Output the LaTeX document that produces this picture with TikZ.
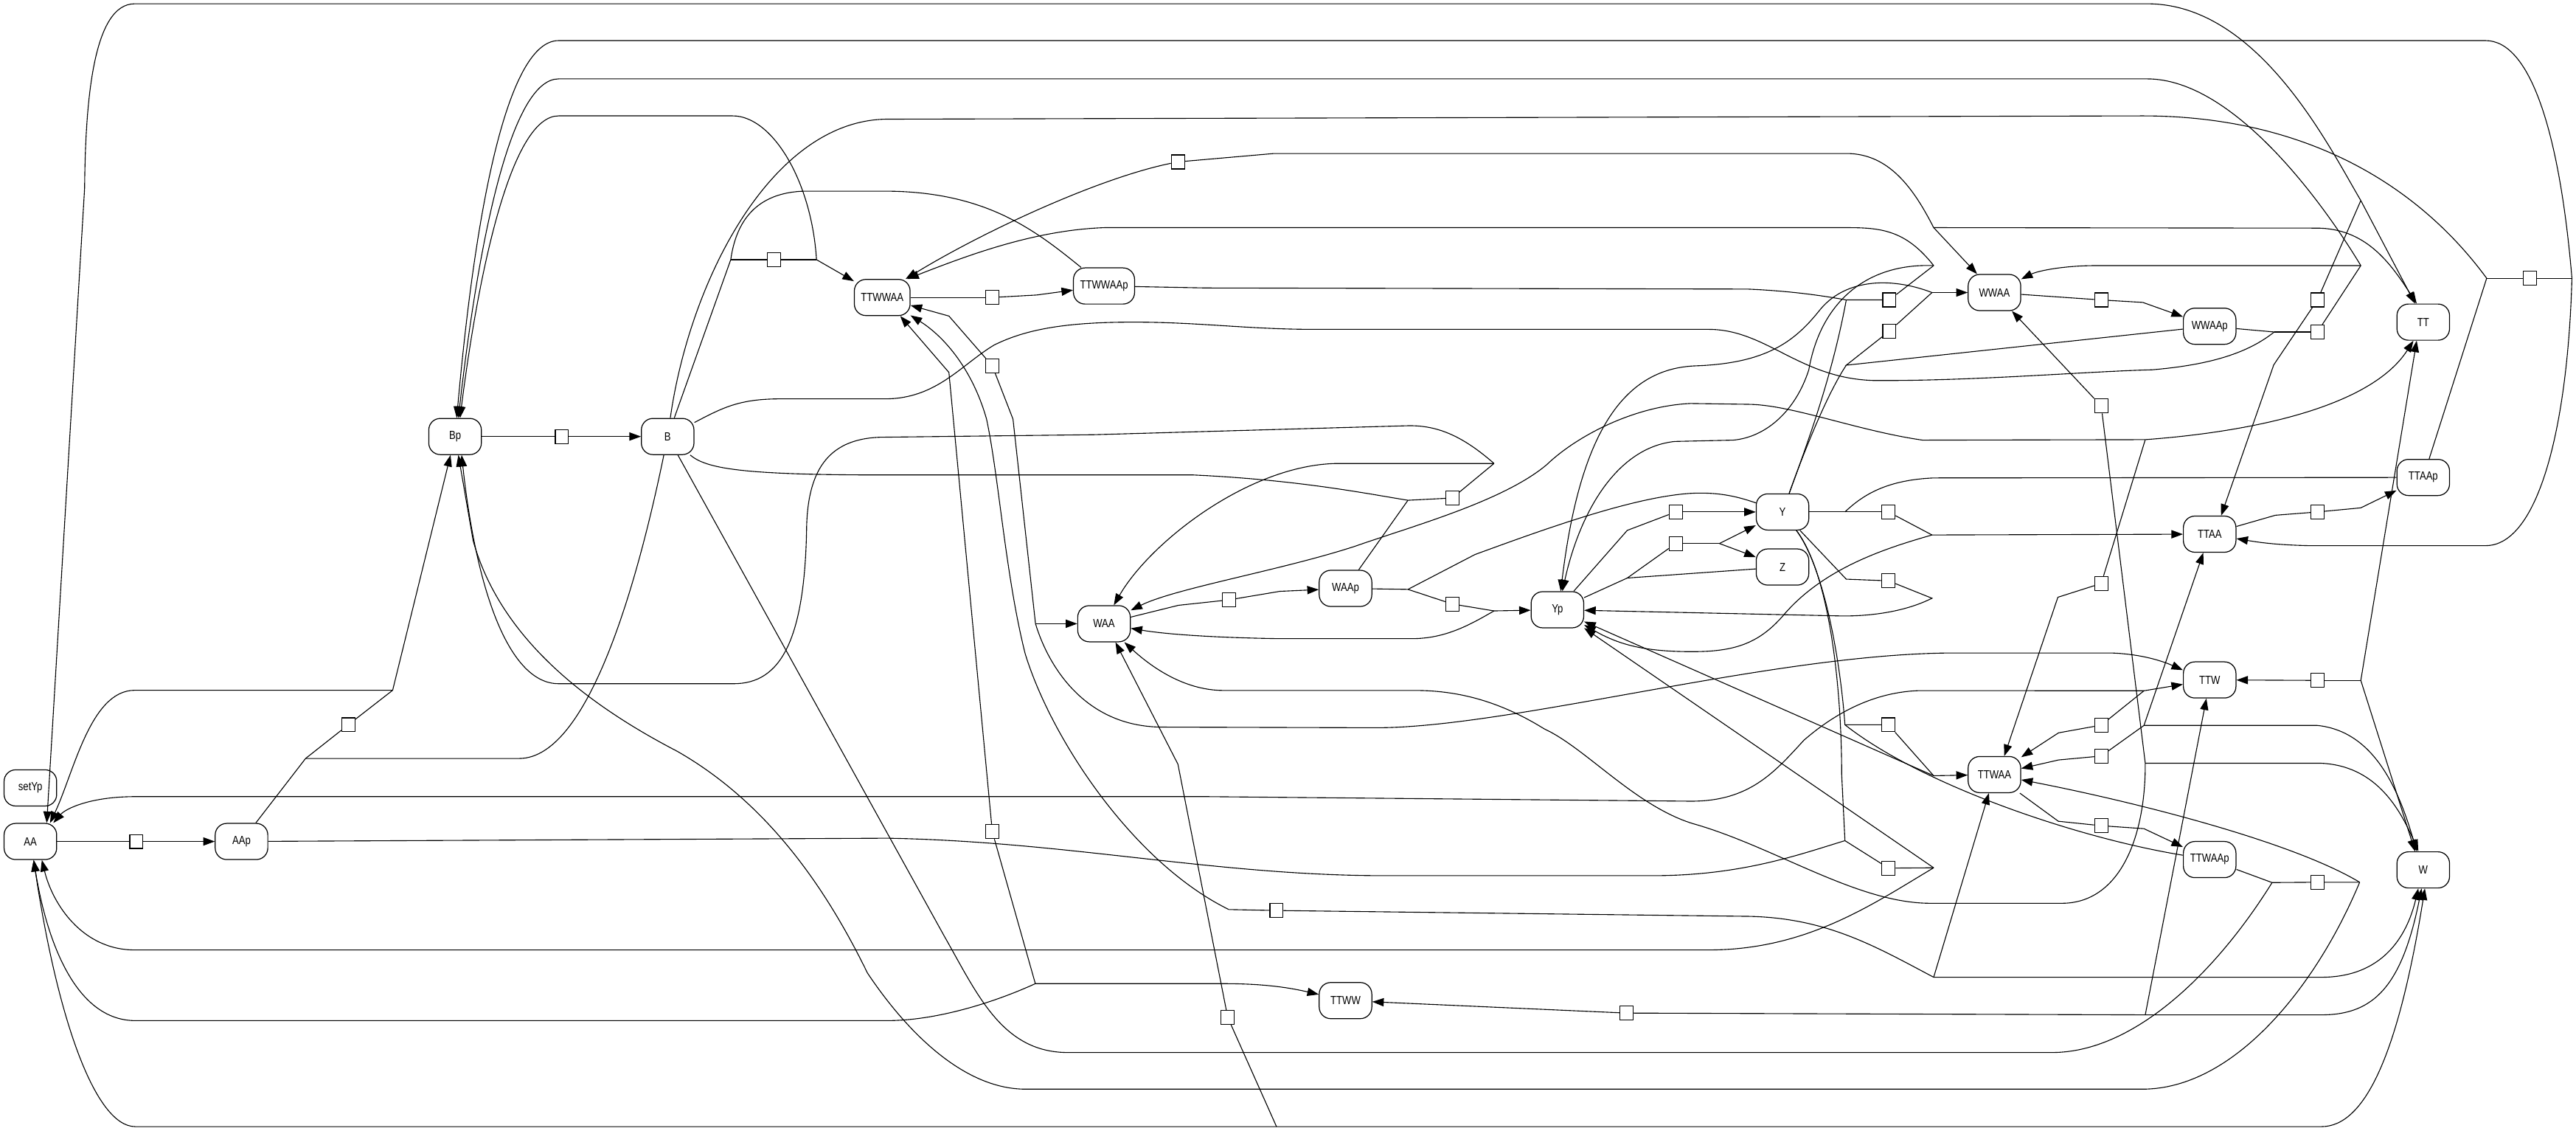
\documentclass[tikz,border=0pt]{standalone}
\usepackage{fontspec}
\newfontfamily\lbl{Liberation Sans}[FakeStretch=0.82]
\usetikzlibrary{arrows.meta}
\begin{document}
\begin{tikzpicture}[x=1bp,y=-1bp,
  place/.style={draw, line width=0.55bp, rounded corners=7bp, minimum width=32bp, minimum height=22bp, inner xsep=4bp, inner ysep=0pt, font=\lbl\fontsize{7.2}{8}\selectfont},
  trans/.style={draw, line width=0.55bp, fill=white, minimum width=8bp, minimum height=8.5bp, inner sep=0pt},
  arc/.style={line width=0.5bp},
  tip/.style={arc, -{Triangle[length=7bp,width=5bp]}},
]
\useasboundingbox (0,0) rectangle (1568,688);
% places
\node[place] (AA) at (18.5,512) {AA};
\node[place] (setYp) at (18.5,479.4) {setYp};
\node[place] (AAp) at (147,512) {AAp};
\node[place] (Bp) at (277,265.6) {Bp};
\node[place] (B) at (406.4,265.6) {B};
\node[place] (TTWWAA) at (537,181) {TTWWAA};
\node[place] (TTWWAAp) at (672,174) {TTWWAAp};
\node[place] (WAA) at (672,379.5) {WAA};
\node[place] (WAAp) at (819,358) {WAAp};
\node[place] (Yp) at (948,371) {Yp};
\node[place] (Y) at (1085,311.5) {Y};
\node[place] (Z) at (1085,345) {Z};
\node[place] (WWAA) at (1214,178) {WWAA};
\node[place] (WWAAp) at (1345,198.5) {WWAAp};
\node[place] (TT) at (1475,196) {TT};
\node[place] (TTAAp) at (1475,290.5) {TTAAp};
\node[place] (TTAA) at (1345,325) {TTAA};
\node[place] (TTW) at (1345,413.7) {TTW};
\node[place] (TTWAA) at (1214,471.3) {TTWAA};
\node[place] (TTWAAp) at (1345,523) {TTWAAp};
\node[place] (W) at (1475,529.3) {W};
\node[place] (TTWW) at (819,608.8) {TTWW};
% transitions
\node[trans] (t1) at (83,512) {};
\node[trans] (t2) at (342,265.6) {};
\node[trans] (t3) at (212,441) {};
\node[trans] (t4) at (471,158) {};
\node[trans] (t5) at (604,181) {};
\node[trans] (t6) at (717,98.5) {};
\node[trans] (t7) at (604,222.6) {};
\node[trans] (t8) at (604,506) {};
\node[trans] (t9) at (748,365) {};
\node[trans] (t10) at (884,303) {};
\node[trans] (t11) at (884,367.5) {};
\node[trans] (t12) at (1020,311.5) {};
\node[trans] (t13) at (1020,330.7) {};
\node[trans] (t14) at (1150,182.5) {};
\node[trans] (t15) at (1150,201.5) {};
\node[trans] (t16) at (1149.5,311.5) {};
\node[trans] (t17) at (1149.5,353.4) {};
\node[trans] (t18) at (1149.5,441) {};
\node[trans] (t19) at (1149.5,528.2) {};
\node[trans] (t20) at (1279,182.5) {};
\node[trans] (t21) at (1279,247) {};
\node[trans] (t22) at (1279,355) {};
\node[trans] (t23) at (1279,441.2) {};
\node[trans] (t24) at (1279,460) {};
\node[trans] (t25) at (1279,502.4) {};
\node[trans] (t26) at (1410.6,182.5) {};
\node[trans] (t27) at (1410.6,202) {};
\node[trans] (t28) at (1410.6,311.5) {};
\node[trans] (t29) at (1410.6,414) {};
\node[trans] (t30) at (1410.6,536.8) {};
\node[trans] (t31) at (1540,169.3) {};
\node[trans] (t32) at (777,554) {};
\node[trans] (t33) at (990,616.4) {};
\node[trans] (t34) at (747.3,619) {};
% junctions
\coordinate (j3L) at (186,461.5);
\coordinate (j3R) at (239,420);
\coordinate (j4L) at (444.8,158);
\coordinate (j4R) at (497,158);
\coordinate (jWAA) at (630.3,379.5);
\coordinate (j8) at (630.2,598.5);
\coordinate (j32L) at (748,553.4);
\coordinate (j32R) at (1177,594.6);
\coordinate (j34) at (777,685.5);
\coordinate (j10L) at (857,304.4);
\coordinate (j10R) at (909.4,282);
\coordinate (j11L) at (857,358.6);
\coordinate (j11R) at (909.4,371.7);
\coordinate (j13L) at (990.5,351.7);
\coordinate (j13R) at (1046.6,330.7);
\coordinate (jA) at (1177,138.5);
\coordinate (j14L) at (1123.8,182.5);
\coordinate (j14R) at (1177,161.6);
\coordinate (j15L) at (1123.8,222.2);
\coordinate (j15R) at (1176,178);
\coordinate (j16L) at (1123,311.5);
\coordinate (j16R) at (1176,325.5);
\coordinate (j17R) at (1176,364);
\coordinate (j18L) at (1123,441);
\coordinate (j18R) at (1177,472);
\coordinate (j19L) at (1123,511.5);
\coordinate (j19R) at (1177,528);
\coordinate (j21) at (1305.8,464.4);
\coordinate (j22) at (1305.8,267.5);
\coordinate (j23) at (1305,420.3);
\coordinate (j24) at (1305,441.4);
\coordinate (j33) at (1305.8,617.5);
\coordinate (j26) at (1437,122);
\coordinate (j27R) at (1437,161.6);
\coordinate (j27L) at (1384.3,202);
\coordinate (j29) at (1437,414);
\coordinate (j30L) at (1383,537);
\coordinate (j30R) at (1436.3,536.8);
\coordinate (j31L) at (1513.6,169.3);
\coordinate (j31R) at (1565.5,169.3);
% ---- t1, t2
\draw[arc] (AA) -- (t1);
\draw[tip] (t1) -- (AAp);
\draw[arc] (Bp) -- (t2);
\draw[tip] (t2) -- (B);
% ---- t3
\draw[arc] (AAp) -- (j3L) -- (t3);
\draw[arc] (B) .. controls (390,345) and (360,461.5) .. (316,461.5) -- (j3L);
\draw[arc] (t3) -- (j3R);
\draw[tip] (j3R) -- (Bp);
\draw[tip] (j3R) -- (82,420) .. controls (55,420) and (45,470) .. ([xshift=12]AA.north);
% ---- top line and t26
\draw[tip] (j26) .. controls (1418,90) and (1375,2.3) .. (1307,2.3) -- (82,2.3) .. controls (57,2.3) and (52,60) .. (51.5,114.5) -- ([xshift=10]AA.north);
\draw[tip] (j26) -- ([xshift=-5]TT.north);
\draw[arc] (j26) -- (t26);
\draw[tip] (t26) -- (1384,222) -- ([xshift=7]TTAA.north);
% ---- long top runs to Bp
\draw[tip] (j31R) .. controls (1558,80) and (1540,24.7) .. (1513,24.7) -- (340,24.7) .. controls (310,24.7) and (290,120) .. ([xshift=1]Bp.north);
\draw[tip] (j27R) .. controls (1415,125) and (1360,48) .. (1307,48) -- (340,48) .. controls (312,48) and (292,140) .. ([xshift=2]Bp.north);
% ---- t4
\draw[arc] (B) -- (j4L);
\draw[arc] (TTWWAAp) .. controls (630,140) and (600,116.3) .. (538,116.3) -- (490,116.3) .. controls (460,117) and (448,135) .. (j4L);
\draw[arc] (j4L) -- (t4) -- (j4R);
\draw[tip] (j4R) -- (TTWWAA);
\draw[tip] (j4R) .. controls (494,110) and (470,70.5) .. (446,70.5) -- (340,70.5) .. controls (312,70.5) and (292,160) .. ([xshift=3]Bp.north);
% ---- t31
\draw[arc] (B) .. controls (420,170) and (470,73) .. (540,72.5) -- (1304,70.5) .. controls (1400,70.5) and (1470,110) .. (j31L);
\draw[arc] (TTAAp) -- (j31L);
\draw[arc] (j31L) -- (t31) -- (j31R);
\draw[tip] (j31R) .. controls (1563,260) and (1545,332) .. (1513,332) -- (1405,332) .. controls (1385,331.5) and (1375,330) .. (TTAA);
% ---- t5
\draw[arc] (TTWWAA) -- (t5);
\draw[tip] (t5) -- (631,179.5) -- (TTWWAAp);
% ---- t6
\draw[tip] (t6) .. controls (670,108) and (600,140) .. ([xshift=-3]TTWWAA.north east);
\draw[arc] (t6) -- (775.5,93.4) -- (1124,93.4) .. controls (1150,93.4) and (1165,115) .. (jA);
\draw[tip] (jA) -- (WWAA);
\draw[tip] (jA) -- (1410,138.8) .. controls (1440,138.8) and (1455,160) .. ([xshift=-4]TT.north);
% ---- t7
\draw[tip] (t7) -- (577.6,192.3) -- (TTWWAA);
\draw[arc] (t7) -- (616.6,255) -- (jWAA);
\draw[tip] (jWAA) -- (WAA);
\draw[tip] (jWAA) .. controls (638,405) and (660,442) .. (707,442.4) -- (837,442.8) .. controls (920,443) and (1080,397.3) .. (1190,397.3) -- (1285,397.3) .. controls (1305,398) and (1318,403) .. ([yshift=6]TTW.west);
% ---- t8
\draw[tip] (t8) -- (577.6,226.6) -- ([xshift=11]TTWWAA.south);
\draw[arc] (t8) -- (j8);
\draw[tip] (j8) -- (744.5,598.5) .. controls (770,598.5) and (785,601) .. (TTWW);
\draw[tip] (j8) .. controls (605,610) and (570,621) .. (540,621) -- (82.4,621) .. controls (45,621) and (28,570) .. ([xshift=2]AA.south);
% ---- t9
\draw[arc] (WAA) -- (717.3,368.3) -- (t9);
\draw[tip] (t9) -- (779,359.8) -- (WAAp);
% ---- t10
\draw[arc] (B) .. controls (430,285) and (450,289) .. (538.6,289) -- (726.5,289) .. controls (790,292) and (830,300) .. (j10L);
\draw[arc] (WAAp) -- (j10L);
\draw[arc] (j10L) -- (t10) -- (j10R);
\draw[tip] (j10R) -- (813.5,282) .. controls (760,283) and (700,330) .. ([xshift=6]WAA.north);
\draw[tip] (j10R) .. controls (890,265) and (875,259) .. (858,259) -- (665.6,264.5) -- (538.5,266) .. controls (505,266) and (492,285) .. (491,320) .. controls (490,390) and (475,416) .. (446.6,416) -- (340,416) .. controls (310,416) and (290,360) .. ([xshift=4]Bp.south);
% ---- t11
\draw[arc] (WAAp) -- (j11L) -- (t11);
\draw[arc] (j11L) -- (897.8,337.4) .. controls (940,322) and (1000,300) .. (1035,300) .. controls (1050,300) and (1060,303) .. (Y);
\draw[arc] (t11) -- (j11R);
\draw[tip] (j11R) -- (Yp);
\draw[tip] (j11R) .. controls (895,380) and (880,388.6) .. (859.3,388.6) -- (779,388.6) .. controls (740,388) and (710,386) .. (WAA);
% ---- t12, t13
\draw[arc] (Yp) -- (990.5,322.7) -- (t12);
\draw[tip] (t12) -- (Y);
\draw[arc] (Yp) -- (j13L) -- (t13);
\draw[arc] (Z) -- (j13L);
\draw[arc] (t13) -- (j13R);
\draw[tip] (j13R) -- (Y);
\draw[tip] (j13R) -- (Z);
% ---- t14
\draw[arc] (TTWWAAp) -- (734,175.2) -- (1063.6,175.9) .. controls (1090,177) and (1110,180) .. (j14L);
\draw[arc] (Y) .. controls (1100,270) and (1115,230) .. (j14L);
\draw[arc] (j14L) -- (t14) -- (j14R);
\draw[tip] (j14R) .. controls (1160,140) and (1145,138.5) .. (1124,138.5) -- (672.4,138.5) .. controls (630,140) and (590,155) .. ([xshift=-2]TTWWAA.north east);
\draw[tip] (j14R) .. controls (1135,160) and (1108,185) .. (1101,225) .. controls (1093,250) and (1075,266) .. (1055,267.8) -- (1019.6,268.6) .. controls (985,272) and (962,310) .. ([xshift=3]Yp.north);
% ---- t15
\draw[arc] (WWAAp) -- (j15L) -- (t15);
\draw[arc] (Y) .. controls (1098,275) and (1112,240) .. (j15L);
\draw[arc] (t15) -- (j15R);
\draw[tip] (j15R) -- (WWAA);
\draw[tip] (j15R) .. controls (1150,168) and (1122,170) .. (1107,189.5) .. controls (1092,208) and (1075,221) .. (1032.4,222.6) .. controls (990,224) and (962,260) .. ([xshift=2]Yp.north);
% ---- t16
\draw[arc] (Y) -- (j16L) -- (t16);
\draw[arc] (TTAAp) -- (1177,290.8) .. controls (1150,292) and (1135,300) .. (j16L);
\draw[arc] (t16) -- (j16R);
\draw[tip] (j16R) -- (TTAA);
\draw[tip] (j16R) .. controls (1150,333) and (1110,345) .. (1085,375) .. controls (1070,392) and (1055,396.5) .. (1030,396.5) .. controls (1000,396.5) and (985,392) .. (Yp);
% ---- t17
\draw[arc] (Y) -- (1123.8,352.4) -- (t17);
\draw[tip] (t17) -- (j17R) .. controls (1160,372) and (1140,374.8) .. (1122,374.8) -- (Yp);
% ---- t18, t19
\draw[arc] (Y) .. controls (1110,345) and (1120,400) .. (j18L) -- (t18);
\draw[arc] (Y) .. controls (1114,350) and (1121,420) .. (1121,471) -- (j19L);
\draw[arc] (TTWAAp) .. controls (1265,510) and (1170,478) .. (j18L);
\draw[arc] (t18) -- (j18R);
\draw[tip] (j18R) -- (TTWAA);
\draw[tip] (j18R) -- (Yp);
\draw[arc] (AAp) -- (540,510) .. controls (650,512) and (740,532.8) .. (842.8,532.8) -- (1005.9,532.8) .. controls (1060,532.8) and (1095,520) .. (j19L);
\draw[arc] (j19L) -- (t19);
\draw[arc] (t19) -- (j19R);
\draw[tip] (j19R) -- (Yp);
\draw[tip] (j19R) .. controls (1140,550) and (1100,578) .. (1040,578) -- (82,578) .. controls (50,578) and (32,550) .. ([xshift=7]AA.south);
% ---- t20
\draw[arc] (WWAA) -- (t20);
\draw[tip] (t20) -- (1304.3,184) -- (WWAAp);
% ---- t21
\draw[tip] (t21) -- (WWAA);
\draw[arc] (t21) -- (j21);
\draw[tip] (j21) -- (1413,464.4) .. controls (1445,466) and (1460,490) .. ([xshift=-3]W.north);
\draw[tip] (j21) .. controls (1306,510) and (1290,549.6) .. (1255,549.6) -- (1175,549.6) .. controls (1130,549.6) and (1080,515) .. (1030,501) .. controls (995,490) and (965,455) .. (940,443.5) .. controls (915,428) and (890,420.1) .. (861.3,420.1) -- (744.6,420.1) .. controls (720,420) and (700,405) .. (WAA);
% ---- t22
\draw[arc] (t22) -- (j22);
\draw[tip] (j22) .. controls (1380,262) and (1445,245) .. ([xshift=-6]TT.south);
\draw[tip] (j22) -- (1170.3,267.8) .. controls (1130,262) and (1090,246) .. (1063.6,246) -- (1029,245.5) .. controls (995,247) and (960,265) .. (941.4,282.8) .. controls (915,305) and (860,320) .. (825,332.3) .. controls (780,347) and (715,358) .. (WAA);
\draw[tip] (t22) -- (1252.6,363.4) -- ([xshift=6]TTWAA.north);
% ---- t23
\draw[arc] (t23) -- (j23);
\draw[tip] (j23) -- (TTW);
\draw[tip] (t23) -- (1253,445.9) -- (TTWAA);
\draw[tip] (j23) -- (1168.8,420.2) .. controls (1135,421) and (1110,440) .. (1098,450.4) .. controls (1080,470) and (1065,487.5) .. (1029.3,487.5) -- (734.2,484.7) -- (82.4,484.7) .. controls (55,484.7) and (40,492) .. ([xshift=14]AA.north);
% ---- t24
\draw[tip] (t24) -- (1253,462.4) -- (TTWAA);
\draw[arc] (t24) -- (j24);
\draw[tip] (j24) -- (TTAA);
\draw[tip] (j24) -- (1410.6,441.4) .. controls (1445,445) and (1460,480) .. ([xshift=-4]W.north);
% ---- t25
\draw[arc] (TTWAA) -- (1252.9,499.7) -- (t25);
\draw[tip] (t25) -- (1305,504.2) -- (TTWAAp);
% ---- t27
\draw[arc] (WWAAp) -- (j27L);
\draw[arc] (B) .. controls (440,248) and (450,242.7) .. (475,242.7) -- (538.6,242.7) .. controls (570,242.7) and (585,222) .. (605,210) .. controls (625,200) and (650,196) .. (690,196) .. controls (730,196) and (760,200.4) .. (800,200.4) -- (1040,200.4) .. controls (1075,200.4) and (1095,230) .. (1140,231.5) .. controls (1200,232) and (1270,226) .. (1310,225) .. controls (1345,222) and (1368,215) .. (j27L);
\draw[arc] (j27L) -- (t27);
\draw[arc] (t27) -- (j27R);
\draw[tip] (j27R) -- (1276.4,161.6) .. controls (1255,161.6) and (1240,165) .. (WWAA);
% ---- t28
\draw[arc] (TTAA) -- (1385,313.5) -- (t28);
\draw[tip] (t28) -- (1437,309) -- (TTAAp);
% ---- t29
\draw[arc] (j29) -- (t29);
\draw[tip] (t29) -- (TTW);
\draw[tip] (j29) -- ([xshift=-4]TT.south);
\draw[tip] (j29) -- ([xshift=-5]W.north);
% ---- t30
\draw[arc] (TTWAAp) -- (j30L);
\draw[arc] (B) -- (575,570) .. controls (595,605) and (610,640.4) .. (650,640.4) -- (1249,640.4) .. controls (1300,640.4) and (1350,590) .. (j30L);
\draw[arc] (j30L) -- (t30) -- (j30R);
\draw[tip] (j30R) .. controls (1395,512) and (1300,488) .. (TTWAA);
\draw[tip] (j30R) .. controls (1410,600) and (1360,662.7) .. (1304,662.7) -- (624.3,662.7) .. controls (585,662.7) and (550,625) .. (528,592) .. controls (505,545) and (470,490) .. (412,457) .. controls (360,430) and (305,390) .. (288,329) -- ([xshift=2]Bp.south);
% ---- t32
\draw[tip] (j32L) .. controls (690,525) and (640,450) .. (624,397.7) .. controls (612,350) and (608,290) .. (600.5,255) .. controls (592,225) and (575,205) .. (TTWWAA);
\draw[arc] (j32L) -- (t32);
\draw[arc] (t32) -- (1060,557.5) .. controls (1110,557.5) and (1140,575) .. (j32R);
\draw[tip] (j32R) -- (TTWAA);
\draw[tip] (j32R) -- (1413,594.6) .. controls (1450,594.6) and (1465,570) .. ([xshift=-3]W.south);
% ---- t33
\draw[tip] (t33) -- (TTWW);
\draw[arc] (t33) -- (j33);
\draw[tip] (j33) -- ([xshift=-2]TTW.south);
\draw[tip] (j33) -- (1413,617.5) .. controls (1445,617.5) and (1462,600) .. ([xshift=-1]W.south);
% ---- t34
\draw[tip] (t34) -- (717,465) -- ([xshift=7]WAA.south);
\draw[arc] (t34) -- (j34);
\draw[tip] (j34) -- (82.4,685.5) .. controls (58,685.5) and (35,620) .. ([xshift=2]AA.south);
\draw[tip] (j34) -- (1413,685.5) .. controls (1440,685.5) and (1460,640) .. ([xshift=1]W.south);
\end{tikzpicture}
\end{document}
